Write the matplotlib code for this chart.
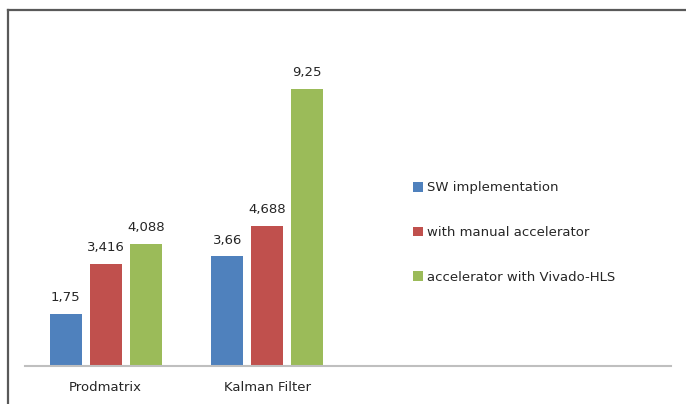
from matplotlib import pyplot as plt
from matplotlib.lines import Line2D
from matplotlib.patches import Patch
import numpy as np

# dados
categorias = ['Prodmatrix', 'Kalman Filter', '', '']
series = ['SW implementation', 'with manual accelerator', 'accelerator with Vivado-HLS']
sw = [1.75, 3.66]
manual = [3.416, 4.688]
hls = [4.088, 9.25]
cores = ['#4F81BD', '#C0504D', '#9BBB59']

W, H = 686, 404
fig = plt.figure(figsize=(W / 100, H / 100), dpi=100)
plt.rcParams['font.family'] = 'DejaVu Sans'

ax = fig.add_axes([25 / W, (H - 366) / H, (671 - 25) / W, (366 - 66.5) / H])

x = np.arange(len(sw))
largura = 0.198
passo = 0.248
for i, (vals, cor, nome) in enumerate(zip([sw, manual, hls], cores, series)):
    barras = ax.bar(x + (i - 1) * passo, vals, largura, color=cor, label=nome)
    for b, v in zip(barras, vals):
        ax.annotate(str(v).replace('.', ','), (b.get_x() + b.get_width() / 2, v),
                    xytext=(0, 7), textcoords='offset points', ha='center', va='bottom',
                    fontsize=9.5, color='#262626')

ax.set_xlim(-0.5, len(categorias) - 0.5)
ax.set_ylim(0, 10)
ax.set_xticks(range(len(categorias)))
ax.set_xticklabels(categorias, fontsize=9.5, color='#262626')
ax.tick_params(axis='x', length=0, pad=11)
ax.set_yticks([])
for s in ['top', 'left', 'right']:
    ax.spines[s].set_visible(False)
ax.spines['bottom'].set_color('#BFBFBF')
ax.spines['bottom'].set_linewidth(1.5)

handles = [Patch(facecolor=c, edgecolor='none') for c in cores]
fig.legend(handles, series, loc='center left', bbox_to_anchor=(413 / W, 1 - 232.5 / H),
           frameon=False, fontsize=9.5, labelspacing=2.4, handlelength=0.75,
           handleheight=0.75, handletextpad=0.3, borderpad=0, borderaxespad=0,
           labelcolor='#262626')

# moldura (topo e lado esquerdo)
fig.add_artist(Line2D([8 / W, 1], [1 - 10 / H, 1 - 10 / H], color='#595959', lw=1.6))
fig.add_artist(Line2D([8 / W, 8 / W], [0, 1 - 10 / H], color='#595959', lw=1.6))

plt.savefig('out.png', dpi=100)
